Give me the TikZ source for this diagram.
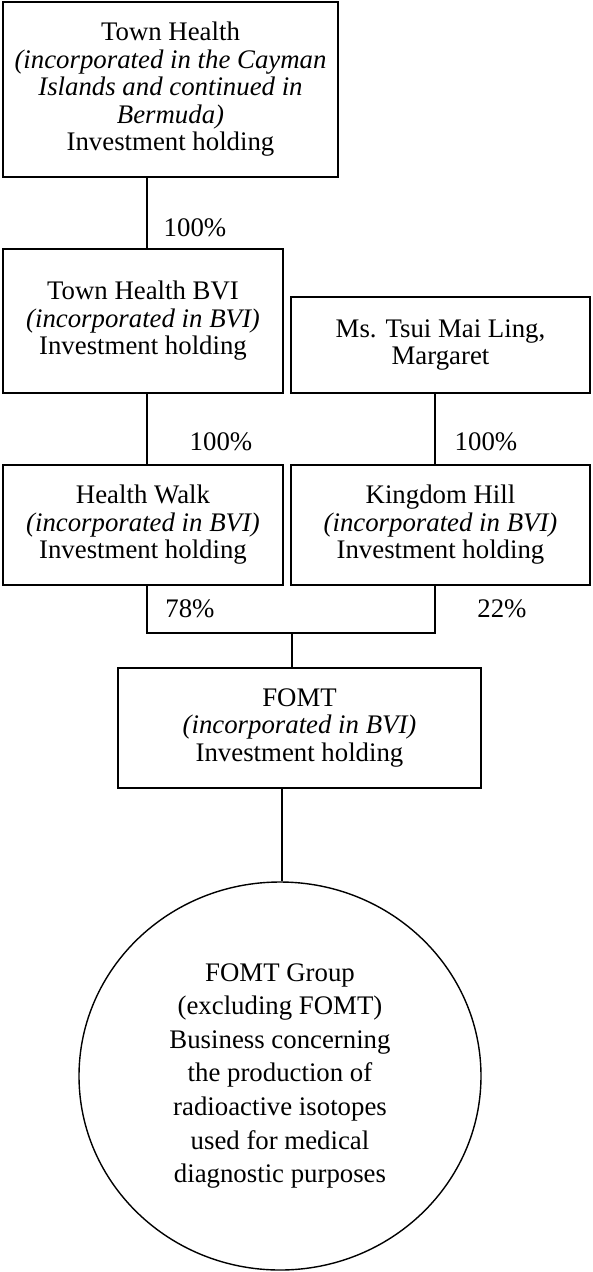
\documentclass[tikz,border=0pt]{standalone}
\usepackage{fontspec}
\setmainfont{Liberation Serif}
\usetikzlibrary{shapes.geometric}
\begin{document}
\begin{tikzpicture}[x=1pt,y=-1pt,
  every node/.style={font=\fontsize{26.8}{27.5}\selectfont},
  box/.style={draw, line width=1.6pt, align=center, inner sep=0pt, minimum width=#1},
  conn/.style={line width=1.6pt},
  pct/.style={inner sep=0pt}]
\useasboundingbox (0,0) rectangle (592,1272);
\node[box=335pt, minimum height=175pt] (TH) at (170.5,89.5)
  {Town Health\\\textit{(incorporated in the Cayman}\\\textit{Islands and continued in}\\\textit{Bermuda)}\\Investment holding};
\node[box=280pt, minimum height=144pt] (BVI) at (143,321)
  {Town Health BVI\\\textit{(incorporated in BVI)}\\Investment holding};
\node[box=299pt, minimum height=96pt] (TSUI) at (440.5,345)
  {Ms. Tsui Mai Ling,\\Margaret};
\node[box=280pt, minimum height=120pt] (HW) at (143,525)
  {Health Walk\\\textit{(incorporated in BVI)}\\Investment holding};
\node[box=299pt, minimum height=120pt] (KH) at (440.5,525)
  {Kingdom Hill\\\textit{(incorporated in BVI)}\\Investment holding};
\node[box=363pt, minimum height=120pt] (FOMT) at (299.5,728)
  {FOMT\\\textit{(incorporated in BVI)}\\Investment holding};
\node[draw, line width=1.4pt, ellipse, minimum width=402pt, minimum height=388pt, inner sep=0pt,
  align=center, font=\fontsize{26.8}{33.6}\selectfont] (GRP) at (280,1076)
  {FOMT Group\\(excluding FOMT)\\Business concerning\\the production of\\radioactive isotopes\\used for medical\\diagnostic purposes};
\coordinate (cL) at (147,0);
\coordinate (cR) at (435,0);
\coordinate (cM) at (292,633);
\coordinate (cB) at (282,0);
\draw[conn] (TH.south -| cL) -- (BVI.north -| cL);
\draw[conn] (BVI.south -| cL) -- (HW.north -| cL);
\draw[conn] (TSUI.south -| cR) -- (KH.north -| cR);
\draw[conn] (HW.south -| cL) -- (cL |- cM) -- (cR |- cM) -- (KH.south -| cR);
\draw[conn] (cM) -- (FOMT.north -| cM);
\draw[conn] (FOMT.south -| cB) -- (GRP.north -| cB);
\node[pct] (p1) at (195,228) {100\%};
\node[pct] (p2) at (221,442) {100\%};
\node[pct] (p3) at (486,442) {100\%};
\node[pct] (p4) at (190,609) {78\%};
\node[pct] (p5) at (502,609) {22\%};
\end{tikzpicture}
\end{document}
